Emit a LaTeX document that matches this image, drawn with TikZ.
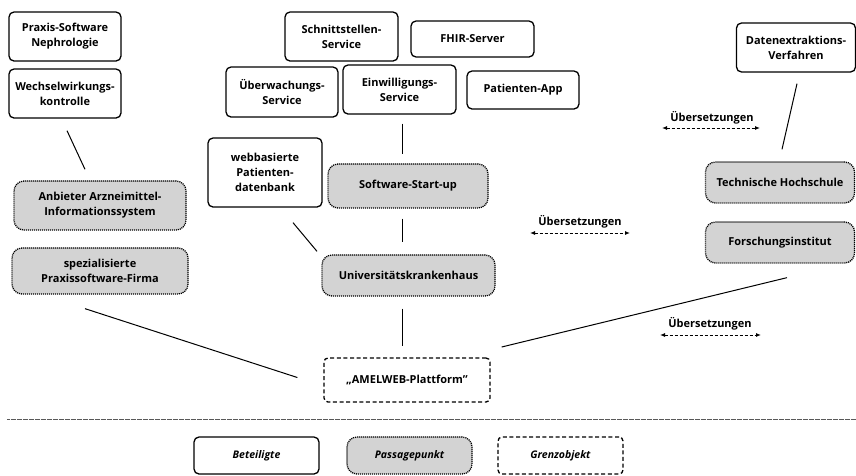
\documentclass[tikz,border=0pt]{standalone}
\usepackage{fontspec}
\setmainfont{Open Sans}
\usetikzlibrary{arrows.meta,calc}
\definecolor{passfill}{RGB}{211,211,211}
\tikzset{
  box/.style={draw=black, line width=1.3pt, rounded corners=5pt, align=center,
    font=\bfseries\fontsize{11}{15}\selectfont, inner sep=0pt, fill=white},
  actor/.style={box},
  passage/.style={box, fill=passfill, rounded corners=10pt, dash pattern=on 1.1pt off 0.9pt},
  boundary/.style={box, rounded corners=4pt, dash pattern=on 4pt off 2.6pt},
  link/.style={line width=1pt},
  transl/.style={line width=1pt, dash pattern=on 3pt off 2pt, {Latex[length=5pt,width=4pt]}-{Latex[length=5pt,width=4pt]}},
  lbl/.style={font=\bfseries\fontsize{11}{13}\selectfont},
  legend/.style={font=\bfseries\itshape\fontsize{10.5}{12}\selectfont}
}
\begin{document}
\begin{tikzpicture}[x=1pt,y=-1pt]
\useasboundingbox (0,0) rectangle (856,475);

% left column
\node[actor, minimum width=112pt, minimum height=49pt] (praxis) at (65,36.5) {Praxis-Software\\Nephrologie};
\node[actor, minimum width=112pt, minimum height=49pt] (wech) at (65,93.5) {Wechselwirkungs-\\kontrolle};
\node[passage, minimum width=172pt, minimum height=49pt] (anb) at (100,205.5) {Anbieter Arzneimittel-\\Informationssystem};
\node[passage, minimum width=176pt, minimum height=46pt] (spez) at (100,271) {spezialisierte\\Praxissoftware-Firma};

% middle column
\node[actor, minimum width=113pt, minimum height=49pt] (schnitt) at (341.5,36.5) {Schnittstellen-\\Service};
\node[actor, minimum width=123pt, minimum height=36pt] (fhir) at (472.5,39) {FHIR-Server};
\node[actor, minimum width=112pt, minimum height=50pt] (ueberw) at (282,92) {Überwachungs-\\Service};
\node[actor, minimum width=113pt, minimum height=49pt] (ein) at (399.5,89.5) {Einwilligungs-\\Service};
\node[actor, minimum width=112pt, minimum height=38pt] (app) at (523,90) {Patienten-App};
\node[actor, minimum width=114pt, minimum height=69pt] (web) at (265,172.5) {webbasierte\\Patienten-\\datenbank};
\node[passage, minimum width=160pt, minimum height=44pt] (sw) at (408,186) {Software-Start-up};
\node[passage, minimum width=173pt, minimum height=41pt] (uni) at (408.5,275.5) {Universitätskrankenhaus};
\node[boundary, minimum width=166pt, minimum height=44pt] (amel) at (407,380) {„AMELWEB-Plattform"};

% right column
\node[actor, minimum width=119pt, minimum height=49pt] (daten) at (796,47.5) {Datenextraktions-\\Verfahren};
\node[passage, minimum width=149pt, minimum height=41pt] (tech) at (780,182.5) {Technische Hochschule};
\node[passage, minimum width=149pt, minimum height=41pt] (forsch) at (780,242.5) {Forschungsinstitut};

% connectors
\draw[link] ($(wech.south)+(2,12)$) -- ($(anb.north)+(-15,-11)$);
\draw[link] ($(ein.south)+(2.5,9)$) -- ($(sw.north)+(-6,-9)$);
\draw[link] ($(sw.south)+(-6,10)$) -- ($(uni.north)+(-6.5,-12)$);
\draw[link] ($(web.south)+(28,15)$) -- ($(uni.north)+(-91.5,-3)$);
\draw[link] ($(spez.south)+(-15,14)$) -- ($(amel.west)+(-26,-2.5)$);
\draw[link] ($(uni.south)+(-6.5,12)$) -- ($(amel.north)+(-5,-11)$);
\draw[link] ($(forsch.south)+(7,14)$) -- ($(amel.east)+(11,-33)$);
\draw[link] ($(daten.south)+(1,11)$) -- ($(tech.north)+(2,-12)$);

% translations
\node[lbl] (ue1) at (712,118) {Übersetzungen};
\draw[transl] ($(ue1)+(-50,10)$) -- ($(ue1)+(48,10)$);
\node[lbl] (ue2) at (580,222) {Übersetzungen};
\draw[transl] ($(ue2)+(-50,11)$) -- ($(ue2)+(50,11)$);
\node[lbl] (ue3) at (710,324) {Übersetzungen};
\draw[transl] ($(ue3)+(-50,11)$) -- ($(ue3)+(51,11)$);

% separator
\coordinate (sepL) at (7,419);
\coordinate (sepR) at (856,419);
\draw[gray!70!black, line width=0.9pt, dash pattern=on 0.6pt off 0.6pt] (sepL) -- (sepR);

% legend
\node[actor, legend, minimum width=125pt, minimum height=37pt] (lgA) at (256.5,455.5) {Beteiligte};
\node[passage, legend, minimum width=125pt, minimum height=37pt] (lgP) at (409.5,455.5) {Passagepunkt};
\node[boundary, legend, minimum width=125pt, minimum height=37pt] (lgB) at (560.5,455.5) {Grenzobjekt};
\end{tikzpicture}
\end{document}
